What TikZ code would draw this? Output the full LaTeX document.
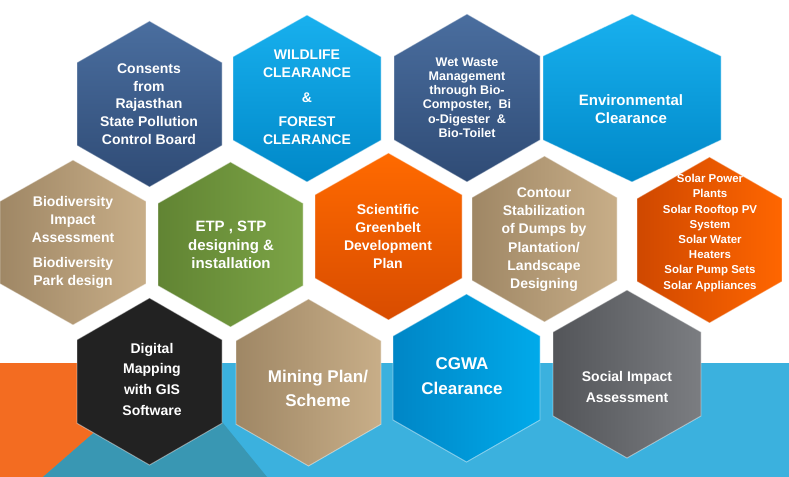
\documentclass[tikz,border=0pt]{standalone}
\usepackage{fontspec}
\setmainfont{Liberation Sans}
\definecolor{bandblue}{HTML}{3BB1DE}
\definecolor{bandorange}{HTML}{F36C21}
\definecolor{bandteal}{HTML}{3997B3}
\definecolor{steeltop}{HTML}{4A6E9F}
\definecolor{steelbot}{HTML}{2F4B75}
\definecolor{skytop}{HTML}{18B0EE}
\definecolor{skybot}{HTML}{0088C8}
\definecolor{tanleft}{HTML}{9F8765}
\definecolor{tanright}{HTML}{C8AE88}
\definecolor{olivleft}{HTML}{618433}
\definecolor{olivright}{HTML}{7CA446}
\definecolor{orangetop}{HTML}{FF6A00}
\definecolor{orangebot}{HTML}{D84C00}
\definecolor{solarleft}{HTML}{CF4800}
\definecolor{solarright}{HTML}{FF6600}
\definecolor{coal}{HTML}{222222}
\definecolor{cgwaleft}{HTML}{0086C6}
\definecolor{cgwaright}{HTML}{00AAEA}
\definecolor{greyleft}{HTML}{535559}
\definecolor{greyright}{HTML}{7B7D81}
\tikzset{
  hexline/.style={draw=white,draw opacity=0.45,line width=0.7pt},
  hexfont/.style 2 args={font=\fontsize{#1}{#2}\selectfont\bfseries},
  steelhex/.style={top color=steeltop,bottom color=steelbot},
  skyhex/.style={top color=skytop,bottom color=skybot},
  tanhex/.style={left color=tanleft,right color=tanright},
  greenhex/.style={left color=olivleft,right color=olivright},
  orangehex/.style={top color=orangetop,bottom color=orangebot},
  solarhex/.style={left color=solarleft,right color=solarright},
  blackhex/.style={fill=coal},
  cgwahex/.style={left color=cgwaleft,right color=cgwaright},
  greyhex/.style={left color=greyleft,right color=greyright}
}
\begin{document}
\begin{tikzpicture}[x=0.75pt,y=-0.75pt,every node/.style={text=white,align=center,inner sep=0pt}]
\useasboundingbox (0,0) rectangle (789,477);
% background band
\fill[bandblue] (0,363) rectangle (789,477);
\fill[bandorange] (0,363) -- (174,363) -- (43,477) -- (0,477) -- cycle;
\fill[bandteal] (43,477) -- (174,363) -- (267,477) -- cycle;
% hexagons: centre / half width / half height / look
\foreach \cx/\cy/\w/\h/\look in {149.5/104/72.5/83/steelhex, 307/98.5/74/83.5/skyhex,
    467/98/73/84/steelhex, 632/98/89/84/skyhex,
    73/242.5/73/82.5/tanhex, 230.5/244.5/72.5/82.5/greenhex, 388.5/236.5/73.5/83.5/orangehex,
    544.5/239/72.5/83/tanhex, 709.5/240/72.5/83/solarhex,
    149.5/381.5/72.5/83.5/blackhex, 308.5/382.5/72.5/83.5/tanhex,
    466.5/378/73.5/84/cgwahex, 627/374/74/84/greyhex} {
  \draw[hexline,\look] (\cx,\cy-\h) -- (\cx+\w,\cy-\h/2) -- (\cx+\w,\cy+\h/2) -- (\cx,\cy+\h)
    -- (\cx-\w,\cy+\h/2) -- (\cx-\w,\cy-\h/2) -- cycle;
}
% top row
\node[hexfont={10.5}{13.3}] (consents) at (149,104) {Consents\\from\\Rajasthan\\State Pollution\\Control Board};
\node[hexfont={10.5}{13.3}] (wildlife) at (307,97) {WILDLIFE\\CLEARANCE\\[6pt]\&\\[4.5pt]FOREST\\CLEARANCE};
\node[hexfont={9.4}{10.65}] (wetwaste) at (467,97.5) {Wet Waste\\Management\\through Bio-\\Composter,\ \ Bi\\o-Digester\ \ \&\\Bio-Toilet};
\node[hexfont={11.25}{13.7}] (environ) at (631,109) {Environmental\\Clearance};
% middle row
\node[hexfont={10.5}{13.5}] (biodiv) at (73,242.5) {Biodiversity\\Impact\\Assessment\\[5pt]Biodiversity\\Park design};
\node[hexfont={11.25}{13.9}] (etp) at (231,245) {ETP , STP\\designing \&\\installation};
\node[hexfont={10.5}{13.5}] (greenbelt) at (388,236) {Scientific\\Greenbelt\\Development\\Plan};
\node[hexfont={10.5}{13.65}] (contour) at (544,239.5) {Contour\\Stabilization\\of Dumps by\\Plantation/\\Landscape\\Designing};
\node[hexfont={8.6}{11.4}] (solar) at (710,233) {Solar Power\\Plants\\Solar Rooftop PV\\System\\Solar Water\\Heaters\\Solar Pump Sets\\Solar Appliances};
% bottom row
\node[hexfont={10.5}{15.5}] (gis) at (152,379) {Digital\\Mapping\\with GIS\\Software};
\node[hexfont={12.75}{18}] (mining) at (318,388) {Mining Plan/\\Scheme};
\node[hexfont={12.75}{18.75}] (cgwa) at (462,376.5) {CGWA\\Clearance};
\node[hexfont={10.5}{15.75}] (social) at (627,387) {Social Impact\\Assessment};
\end{tikzpicture}
\end{document}
